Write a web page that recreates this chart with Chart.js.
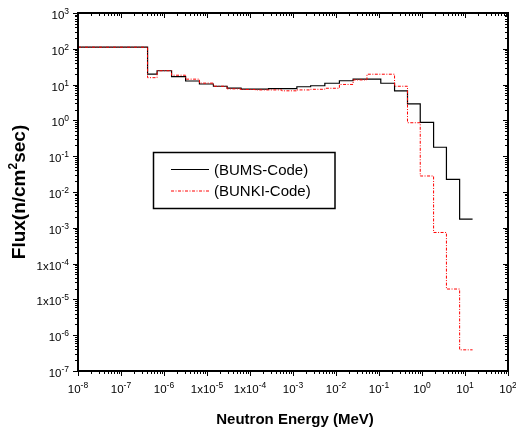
<!DOCTYPE html>
<html>
<head>
<meta charset="utf-8">
<script src="https://cdn.jsdelivr.net/npm/chart.js@4"></script>
<style>
  html, body { margin: 0; padding: 0; background: #fff; }
  #wrap { width: 516px; height: 433px; }
</style>
</head>
<body>
<div id="wrap"><canvas id="fluxChart"></canvas></div>
<script>
// Energy group edges (MeV) and group fluxes
const energyEdges = [1e-8, 4.15e-7, 6.9e-7, 1.5e-6, 3.18e-6, 6.67e-6, 1.41e-5, 2.94e-5,
  6.2e-5, 1.3e-4, 2.7e-4, 5.5e-4, 1.23e-3, 2.57e-3, 5.5e-3, 1.2e-2, 2.5e-2, 5.25e-2,
  0.11, 0.23, 0.46, 0.91, 1.86, 3.7, 7.5, 15];
const bumsFlux = [111, 19.5, 24.4, 16.6, 12.6, 10.4, 9.0, 8.0, 7.5, 7.5, 7.7, 7.7, 8.7,
  9.3, 10.9, 12.8, 14.3, 14.3, 10.9, 6.7, 2.9, 0.88, 0.178, 0.0226, 1.74e-3];
const bunkiFlux = [111, 15.6, 24.4, 18.3, 14.2, 11.0, 9.0, 7.6, 7.3, 7.1, 7.1, 6.7, 7.1,
  7.4, 7.9, 10.1, 13.5, 19.5, 19.5, 9.0, 0.86, 0.028, 7.4e-4, 1.95e-5, 3.9e-7];

// Tick labels ("base^exponent")
const xTickValues = [1e-8, 1e-7, 1e-6, 1e-5, 1e-4, 1e-3, 1e-2, 1e-1, 1e0, 1e1, 1e2];
const xTickLabels = ["10^-8", "10^-7", "10^-6", "1x10^-5", "1x10^-4", "10^-3", "10^-2",
  "10^-1", "10^0", "10^1", "10^2"];
const yTickValues = [1e3, 1e2, 1e1, 1e0, 1e-1, 1e-2, 1e-3, 1e-4, 1e-5, 1e-6, 1e-7];
const yTickLabels = ["10^3", "10^2", "10^1", "10^0", "10^-1", "10^-2", "10^-3", "1x10^-4",
  "1x10^-5", "10^-6", "10^-7"];

const FONT = '"Liberation Sans", Arial, sans-serif';

// turn group edges + values into step points
function toSteps(values) {
  const pts = values.map((v, i) => ({ x: energyEdges[i], y: v }));
  pts.push({ x: energyEdges[energyEdges.length - 1], y: values[values.length - 1] });
  return pts;
}

// draw "10^-5" style label with a raised exponent
function drawPow(ctx, label, x, y, align, size, supSize) {
  const [base, exp] = label.split("^");
  ctx.font = size + "px " + FONT;
  const wb = ctx.measureText(base).width;
  ctx.font = supSize + "px " + FONT;
  const ws = ctx.measureText(exp).width;
  const total = wb + ws;
  let sx = x;
  if (align === "center") sx = x - total / 2;
  if (align === "right") sx = x - total;
  ctx.textAlign = "left";
  ctx.textBaseline = "alphabetic";
  ctx.font = size + "px " + FONT;
  ctx.fillText(base, sx, y);
  ctx.font = supSize + "px " + FONT;
  ctx.fillText(exp, sx + wb, y - 5);
}

const framePlugin = {
  id: "frame",
  afterDraw(chart) {
    const { ctx, chartArea: { left, right, top, bottom }, scales: { x, y } } = chart;
    ctx.save();
    ctx.strokeStyle = "#000";
    ctx.fillStyle = "#000";

    // box
    ctx.lineWidth = 2;
    ctx.strokeRect(left, top, right - left, bottom - top);

    // ticks: outward on bottom/left, inward on top/right
    ctx.lineWidth = 1;
    ctx.beginPath();
    for (let d = -8; d <= 2; d++) {
      for (let m = 1; m <= 9; m++) {
        const v = m * Math.pow(10, d);
        if (v > 100.0001) break;
        const len = m === 1 ? 5 : 3;
        const px = Math.round(x.getPixelForValue(v)) + 0.5;
        ctx.moveTo(px, bottom); ctx.lineTo(px, bottom + len);
        ctx.moveTo(px, top); ctx.lineTo(px, top + len);
      }
    }
    for (let d = -7; d <= 3; d++) {
      for (let m = 1; m <= 9; m++) {
        const v = m * Math.pow(10, d);
        if (v > 1000.0001) break;
        const len = m === 1 ? 5 : 3;
        const py = Math.round(y.getPixelForValue(v)) + 0.5;
        ctx.moveTo(left, py); ctx.lineTo(left - len, py);
        ctx.moveTo(right, py); ctx.lineTo(right - len, py);
      }
    }
    ctx.stroke();

    // tick labels
    xTickValues.forEach((v, i) => {
      drawPow(ctx, xTickLabels[i], x.getPixelForValue(v), bottom + 22, "center", 11.5, 8.5);
    });
    yTickValues.forEach((v, i) => {
      drawPow(ctx, yTickLabels[i], left - 9, y.getPixelForValue(v) + 6, "right", 11.5, 8.5);
    });

    // axis titles
    ctx.font = "bold 15px " + FONT;
    ctx.textAlign = "center";
    ctx.textBaseline = "alphabetic";
    ctx.fillText("Neutron Energy (MeV)", 295, 424);

    ctx.save();
    ctx.translate(25, 192);
    ctx.rotate(-Math.PI / 2);
    const t1 = "Flux(n/cm", t2 = "2", t3 = "sec)";
    ctx.font = "bold 19px " + FONT;
    const w1 = ctx.measureText(t1).width, w3 = ctx.measureText(t3).width;
    ctx.font = "bold 12px " + FONT;
    const w2 = ctx.measureText(t2).width;
    let sx = -(w1 + w2 + w3) / 2;
    ctx.textAlign = "left";
    ctx.font = "bold 19px " + FONT;
    ctx.fillText(t1, sx, 0);
    ctx.font = "bold 12px " + FONT;
    ctx.fillText(t2, sx + w1, -8);
    ctx.font = "bold 19px " + FONT;
    ctx.fillText(t3, sx + w1 + w2, 0);
    ctx.restore();

    // legend box
    ctx.lineWidth = 1.5;
    ctx.strokeRect(153.5, 152.5, 181.5, 56);
    const rows = [0, 1].map((i) => chart.data.datasets[i]);
    rows.forEach((ds, i) => {
      const ly = 169.5 + i * 21.5;
      ctx.beginPath();
      ctx.strokeStyle = ds.borderColor;
      ctx.lineWidth = ds.borderWidth;
      ctx.setLineDash(ds.borderDash || []);
      ctx.moveTo(171, ly);
      ctx.lineTo(209, ly);
      ctx.stroke();
      ctx.setLineDash([]);
      ctx.font = "15px " + FONT;
      ctx.textAlign = "left";
      ctx.textBaseline = "middle";
      ctx.fillStyle = "#000";
      ctx.fillText(ds.label, 214, ly + 1);
    });

    ctx.restore();
  },
};

const ctx = document.getElementById("fluxChart").getContext("2d");
new Chart(ctx, {
  type: "line",
  data: {
    datasets: [
      {
        label: "(BUMS-Code)",
        data: toSteps(bumsFlux),
        borderColor: "#000000",
        borderWidth: 1.2,
        stepped: true,
        pointRadius: 0,
        fill: false,
        order: 1,
      },
      {
        label: "(BUNKI-Code)",
        data: toSteps(bunkiFlux),
        borderColor: "#ff0000",
        borderWidth: 1,
        borderDash: [3, 1.5, 1, 1.5],
        stepped: true,
        pointRadius: 0,
        fill: false,
        order: 0,
      },
    ],
  },
  options: {
    animation: false,
    responsive: true,
    maintainAspectRatio: false,
    layout: { padding: { left: 78, right: 8, top: 13, bottom: 62 } },
    plugins: { legend: { display: false }, tooltip: { enabled: false } },
    scales: {
      x: { type: "logarithmic", min: 1e-8, max: 1e2, display: false },
      y: { type: "logarithmic", min: 1e-7, max: 1e3, display: false },
    },
  },
  plugins: [framePlugin],
});
</script>
</body>
</html>
